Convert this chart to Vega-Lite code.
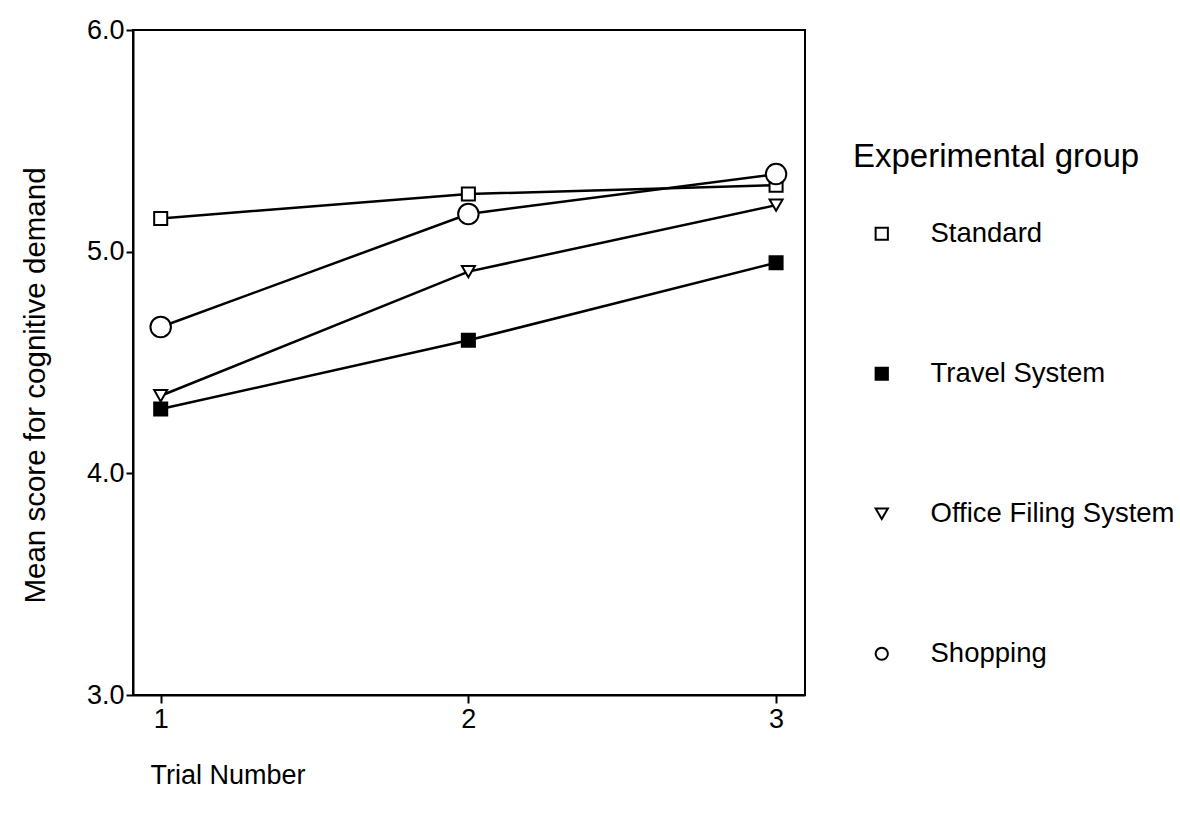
{
  "$schema": "https://vega.github.io/schema/vega-lite/v6.json",
  "width": 672,
  "height": 665,
  "autosize": {"type": "none"},
  "padding": {"left": 133, "top": 30, "right": 375, "bottom": 125},
  "background": "white",
  "config": {
    "font": "Liberation Sans",
    "view": {"stroke": "black", "strokeWidth": 2},
    "axis": {
      "grid": false,
      "domainColor": "black",
      "domainWidth": 2,
      "tickColor": "black",
      "tickWidth": 2,
      "labelColor": "black",
      "titleColor": "black",
      "titleFontWeight": "normal",
      "labelFont": "Liberation Sans",
      "titleFont": "Liberation Sans"
    },
    "legend": {
      "titleFont": "Liberation Sans",
      "labelFont": "Liberation Sans",
      "titleFontSize": 33,
      "titleFontWeight": "normal",
      "titleColor": "black",
      "labelFontSize": 27.5,
      "labelColor": "black",
      "titlePadding": 46,
      "rowPadding": 111,
      "symbolSize": 150,
      "symbolStrokeWidth": 2,
      "symbolOffset": 15,
      "labelOffset": 35,
      "titleLimit": 400,
      "labelLimit": 400
    }
  },
  "data": {
    "values": [
      {"group": "Standard", "trial": 1, "score": 5.15},
      {"group": "Standard", "trial": 2, "score": 5.26},
      {"group": "Standard", "trial": 3, "score": 5.30},
      {"group": "Travel System", "trial": 1, "score": 4.29},
      {"group": "Travel System", "trial": 2, "score": 4.60},
      {"group": "Travel System", "trial": 3, "score": 4.95},
      {"group": "Office Filing System", "trial": 1, "score": 4.35},
      {"group": "Office Filing System", "trial": 2, "score": 4.91},
      {"group": "Office Filing System", "trial": 3, "score": 5.21},
      {"group": "Shopping", "trial": 1, "score": 4.66},
      {"group": "Shopping", "trial": 2, "score": 5.17},
      {"group": "Shopping", "trial": 3, "score": 5.35}
    ]
  },
  "encoding": {
    "x": {
      "field": "trial",
      "type": "quantitative",
      "scale": {"domain": [0.91, 3.094], "nice": false, "zero": false},
      "axis": {
        "values": [1, 2, 3],
        "format": "d",
        "title": "Trial Number",
        "labelFontSize": 27,
        "tickSize": 8,
        "labelPadding": 3,
        "titleFontSize": 27,
        "titleAnchor": "start",
        "titleAlign": "left",
        "titleBaseline": "middle",
        "titleX": 17,
        "titleY": 80
      }
    },
    "y": {
      "field": "score",
      "type": "quantitative",
      "scale": {"domain": [3, 6], "nice": false, "zero": false},
      "axis": {
        "values": [3, 4, 5, 6],
        "format": ".1f",
        "title": "Mean score for cognitive demand",
        "labelFontSize": 27,
        "tickSize": 7,
        "labelPadding": 2,
        "titleFontSize": 29.5,
        "titleAngle": -90,
        "titleAlign": "center",
        "titleBaseline": "middle",
        "titleX": -98,
        "titleY": 355
      }
    },
    "shape": {
      "field": "group",
      "type": "nominal",
      "scale": {
        "domain": ["Standard", "Travel System", "Office Filing System", "Shopping"],
        "range": ["square", "square", "triangle-down", "circle"]
      },
      "legend": {"title": "Experimental group", "orient": "none", "legendX": 720, "legendY": 111}
    },
    "fill": {
      "field": "group",
      "type": "nominal",
      "scale": {
        "domain": ["Standard", "Travel System", "Office Filing System", "Shopping"],
        "range": ["white", "black", "white", "white"]
      },
      "legend": {"title": "Experimental group", "orient": "none", "legendX": 720, "legendY": 111}
    },
    "stroke": {
      "field": "group",
      "type": "nominal",
      "scale": {
        "domain": ["Standard", "Travel System", "Office Filing System", "Shopping"],
        "range": ["black", "black", "black", "black"]
      },
      "legend": {"title": "Experimental group", "orient": "none", "legendX": 720, "legendY": 111}
    }
  },
  "layer": [
    {
      "mark": {"type": "line", "color": "black", "strokeWidth": 2.5},
      "encoding": {"detail": {"field": "group"}, "shape": null, "fill": null, "stroke": null}
    },
    {
      "transform": [{"filter": "datum.group !== 'Shopping'"}],
      "mark": {"type": "point", "filled": true, "strokeWidth": 2, "opacity": 1, "size": 170}
    },
    {
      "transform": [{"filter": "datum.group === 'Shopping'"}],
      "mark": {"type": "point", "filled": true, "strokeWidth": 2, "opacity": 1, "size": 420}
    }
  ]
}
